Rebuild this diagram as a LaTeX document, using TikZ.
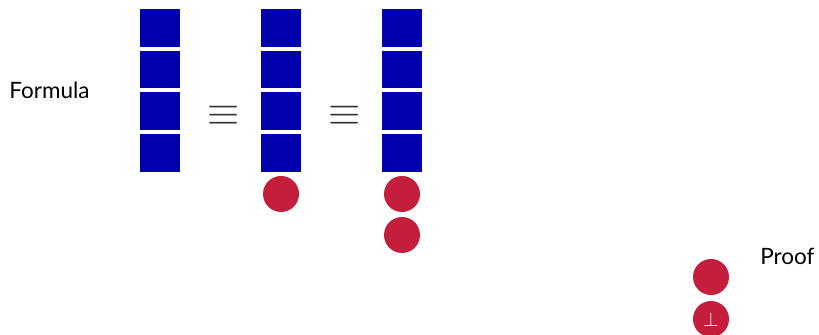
\documentclass[tikz,border=0pt]{standalone}
\usepackage{fontspec}
\setmainfont{Lato}
\usetikzlibrary{positioning}
\definecolor{blockblue}{RGB}{0,0,175}
\definecolor{dotred}{RGB}{197,30,60}
\tikzset{
  blk/.style={fill=blockblue,draw=none,rectangle,minimum width=20pt,minimum height=18.875pt,inner sep=0pt,outer sep=0pt},
  dot/.style={fill=dotred,draw=none,circle,minimum size=18pt,inner sep=0pt,outer sep=0pt,text=white},
  lbl/.style={inner sep=0pt,font=\fontsize{11.25}{13}\selectfont},
  eqv/.style={inner sep=0pt,text=black!80,font=\fontsize{20}{21}\selectfont}
}

\begin{document}
\begin{tikzpicture}[x=0.5pt,y=0.5pt,node distance=2pt]
\useasboundingbox (0,0) rectangle (819,-335);

\node[lbl,anchor=base west] (formula) at (9,-99) {Formula};

% left column
\node[blk] (f1) at (160,-27.875) {};
\node[blk,below=of f1] (f2) {};
\node[blk,below=of f2] (f3) {};
\node[blk,below=of f3] (f4) {};

\node[eqv] (eq1) at (224,-116) {$\equiv$};

% middle column
\node[blk] (g1) at (281,-27.875) {};
\node[blk,below=of g1] (g2) {};
\node[blk,below=of g2] (g3) {};
\node[blk,below=of g3] (g4) {};
\node[dot,below=of g4] (gd1) {};

\node[eqv] (eq2) at (345,-116) {$\equiv$};

% right column
\node[blk] (h1) at (402,-27.875) {};
\node[blk,below=of h1] (h2) {};
\node[blk,below=of h2] (h3) {};
\node[blk,below=of h3] (h4) {};
\node[dot,below=of h4] (hd1) {};
\node[dot,below=2.5pt of hd1] (hd2) {};

% proof
\node[lbl,anchor=base west] (proof) at (760,-265) {Proof};
\node[dot] (pd1) at (711,-277) {};
\node[dot,below=3pt of pd1] (pd2) {\raisebox{-4pt}[0pt][0pt]{$\bot$}};
\end{tikzpicture}
\end{document}
